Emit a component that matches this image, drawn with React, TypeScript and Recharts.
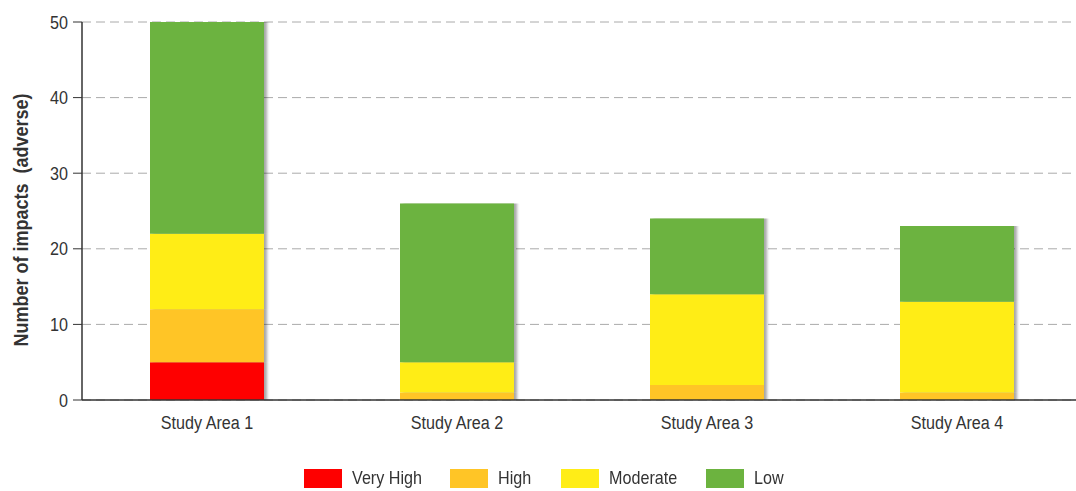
import { Bar, BarChart, CartesianGrid, XAxis, YAxis } from "recharts"

// values (number of adverse impacts by significance)
const areas = ["Study Area 1", "Study Area 2", "Study Area 3", "Study Area 4"]
const veryHigh = [5, 0, 0, 0]
const high = [7, 1, 2, 1]
const moderate = [10, 4, 12, 12]
const low = [28, 21, 10, 10]
const yTicks = [0, 10, 20, 30, 40, 50]

const levels = [
  { key: "Very High", color: "#fe0000" },
  { key: "High", color: "#ffc526" },
  { key: "Moderate", color: "#ffed17" },
  { key: "Low", color: "#6cb33f" },
]

const data = areas.map((area, i) => ({
  area,
  "Very High": veryHigh[i],
  High: high[i],
  Moderate: moderate[i],
  Low: low[i],
}))

// no narrow font installed, so squeeze Liberation Sans horizontally
const FONT = "'Liberation Sans', Arial, sans-serif"
const TEXT = "#333333"
const SQUEEZE = 0.85

const XTick = (props: any) => {
  const { x, y, payload } = props
  return (
    <text
      transform={`translate(${x}, ${y}) scale(${SQUEEZE}, 1)`}
      textAnchor="middle"
      dy="0.71em"
      fontFamily={FONT}
      fontSize={19}
      fill={TEXT}
    >
      {payload.value}
    </text>
  )
}

const YTick = (props: any) => {
  const { x, y, payload } = props
  return (
    <text
      transform={`translate(${x}, ${y}) scale(${SQUEEZE}, 1)`}
      textAnchor="end"
      dy="0.35em"
      fontFamily={FONT}
      fontSize={19}
      fill={TEXT}
    >
      {payload.value}
    </text>
  )
}

const YLabel = (props: any) => {
  const vb = props.viewBox || {}
  const cy = vb.y + vb.height / 2 + 9
  return (
    <text
      transform={`translate(21, ${cy}) rotate(-90) scale(0.9, 1)`}
      textAnchor="middle"
      dominantBaseline="central"
      fontFamily={FONT}
      fontSize={20}
      fontWeight="bold"
      fill={TEXT}
      style={{ whiteSpace: "pre" }}
    >
      {"Number of impacts  (adverse)"}
    </text>
  )
}

export default function App() {
  return (
    <div style={{ position: "relative", width: 1076, height: 491, fontFamily: FONT, overflow: "hidden" }}>
      <style>{`body { margin: 0; }`}</style>
      <BarChart
        width={1076}
        height={491}
        data={data}
        margin={{ top: 22, right: -6, left: 0, bottom: 61 }}
        barSize={114}
      >
        <defs>
          {/* shadow to the right only, blurred horizontally so stacked segments don't get seams */}
          <filter id="barShadow" x="-10%" y="0%" width="130%" height="100%">
            <feGaussianBlur in="SourceAlpha" stdDeviation="1.5 0" result="blur" />
            <feOffset in="blur" dx="3" dy="0" result="off" />
            <feComponentTransfer in="off" result="shadow">
              <feFuncA type="linear" slope="0.35" />
            </feComponentTransfer>
            <feMerge>
              <feMergeNode in="shadow" />
              <feMergeNode in="SourceGraphic" />
            </feMerge>
          </filter>
        </defs>
        <CartesianGrid vertical={false} stroke="#aaaaaa" strokeDasharray="9 5" />
        <XAxis
          dataKey="area"
          axisLine={{ stroke: TEXT, strokeWidth: 1.5 }}
          tickLine={false}
          tickSize={0}
          tickMargin={15}
          tick={<XTick />}
        />
        <YAxis
          width={82}
          domain={[0, 50]}
          ticks={yTicks}
          interval={0}
          axisLine={{ stroke: TEXT, strokeWidth: 1.5 }}
          tickLine={{ stroke: TEXT }}
          tickSize={9}
          tickMargin={5}
          tick={<YTick />}
          label={<YLabel />}
        />
        {levels.map((l) => (
          <Bar
            key={l.key}
            dataKey={l.key}
            stackId="a"
            fill={l.color}
            filter="url(#barShadow)"
            isAnimationActive={false}
          />
        ))}
      </BarChart>
      <div
        style={{
          position: "absolute",
          top: 468,
          left: 0,
          width: 1076,
          display: "flex",
          justifyContent: "center",
          alignItems: "center",
          fontSize: 19,
          color: TEXT,
          paddingLeft: 12,
          boxSizing: "border-box",
        }}
      >
        {levels.map((l) => (
          <div key={l.key} style={{ display: "flex", alignItems: "center", margin: "0 15px" }}>
            <span style={{ width: 38, height: 19, background: l.color, marginRight: 10 }} />
            <span
              style={{
                lineHeight: "20px",
                display: "inline-block",
                transform: `scaleX(${SQUEEZE})`,
                transformOrigin: "left center",
                marginRight: -Math.round(l.key.length * 1.6),
              }}
            >
              {l.key}
            </span>
          </div>
        ))}
      </div>
    </div>
  )
}
